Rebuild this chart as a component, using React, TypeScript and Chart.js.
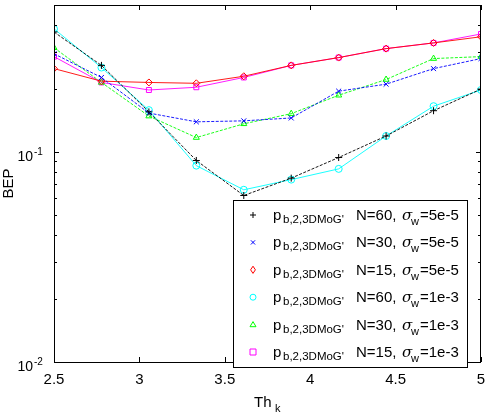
import React, { useEffect, useRef } from "react";
import { Chart, registerables } from "chart.js";

Chart.register(...registerables);

const thK = [2.5, 2.7778, 3.0556, 3.3333, 3.6111, 3.8889, 4.1667, 4.4444, 4.7222, 5];
const bepN60s5e5 = [0.372, 0.258, 0.155, 0.091, 0.062, 0.075, 0.094, 0.119, 0.157, 0.199];
const bepN30s5e5 = [0.293, 0.226, 0.153, 0.139, 0.1405, 0.145, 0.1945, 0.21, 0.249, 0.278];
const bepN15s5e5 = [0.249, 0.217, 0.214, 0.212, 0.229, 0.258, 0.281, 0.31, 0.33, 0.353];
const bepN60s1e3 = [0.385, 0.252, 0.158, 0.086, 0.066, 0.0738, 0.083, 0.119, 0.165, 0.197];
const bepN30s1e3 = [0.313, 0.214, 0.148, 0.117, 0.136, 0.152, 0.186, 0.221, 0.278, 0.284];
const bepN15s1e3 = [0.284, 0.214, 0.197, 0.203, 0.226, 0.258, 0.281, 0.31, 0.33, 0.364];

const xTicks = [2.5, 3, 3.5, 4, 4.5, 5];
const xTickLabels = ["2.5", "3", "3.5", "4", "4.5", "5"];
const yMajor = [0.01, 0.1];
const yMajorExp = ["-2", "-1"];
const yMinor = [0.02, 0.03, 0.04, 0.05, 0.06, 0.07, 0.08, 0.09, 0.2, 0.3, 0.4, 0.5];

const legendN = ["60", "30", "15", "60", "30", "15"];
const legendSigma = ["5e-5", "5e-5", "5e-5", "1e-3", "1e-3", "1e-3"];

const FONT = "'Liberation Sans', Arial, Helvetica, sans-serif";

type Spec = { data: number[]; color: string; style: string; dash: number[] };
const specs: Spec[] = [
  { data: bepN60s5e5, color: "#000000", style: "cross", dash: [3, 1.5] },
  { data: bepN30s5e5, color: "#0000ff", style: "crossRot", dash: [3, 1.5] },
  { data: bepN15s5e5, color: "#ff0000", style: "rectRot", dash: [] },
  { data: bepN60s1e3, color: "#00ffff", style: "circle", dash: [] },
  { data: bepN30s1e3, color: "#00ff00", style: "triangle", dash: [3, 1.5] },
  { data: bepN15s1e3, color: "#ff00ff", style: "rect", dash: [] },
];

function drawMarker(ctx: CanvasRenderingContext2D, style: string, x: number, y: number, r: number, color: string) {
  ctx.save();
  ctx.strokeStyle = color;
  ctx.lineWidth = 1;
  ctx.setLineDash([]);
  ctx.beginPath();
  if (style === "cross") {
    ctx.moveTo(x - r, y); ctx.lineTo(x + r, y);
    ctx.moveTo(x, y - r); ctx.lineTo(x, y + r);
  } else if (style === "crossRot") {
    const d = r * 0.7;
    ctx.moveTo(x - d, y - d); ctx.lineTo(x + d, y + d);
    ctx.moveTo(x - d, y + d); ctx.lineTo(x + d, y - d);
  } else if (style === "rectRot") {
    ctx.moveTo(x, y - r * 1.2); ctx.lineTo(x + r * 0.8, y); ctx.lineTo(x, y + r * 1.2); ctx.lineTo(x - r * 0.8, y); ctx.closePath();
  } else if (style === "circle") {
    ctx.arc(x, y, r, 0, Math.PI * 2);
  } else if (style === "triangle") {
    ctx.moveTo(x, y - r); ctx.lineTo(x + r, y + r * 0.7); ctx.lineTo(x - r, y + r * 0.7); ctx.closePath();
  } else if (style === "rect") {
    ctx.rect(x - r, y - r, 2 * r, 2 * r);
  }
  ctx.stroke();
  ctx.restore();
}

const decorPlugin = {
  id: "decor",
  afterDraw(chart: any) {
    const ctx: CanvasRenderingContext2D = chart.ctx;
    const { left, right, top, bottom } = chart.chartArea;
    const xs = chart.scales.x;
    const ys = chart.scales.y;
    ctx.save();
    ctx.strokeStyle = "#000";
    ctx.lineWidth = 1;
    ctx.setLineDash([]);
    ctx.strokeRect(Math.round(left) + 0.5, Math.round(top) + 0.5, Math.round(right - left) - 1, Math.round(bottom - top));
    ctx.beginPath();
    xTicks.forEach((v) => {
      const px = Math.round(xs.getPixelForValue(v)) + 0.5;
      ctx.moveTo(px, bottom); ctx.lineTo(px, bottom - 5);
      ctx.moveTo(px, top); ctx.lineTo(px, top + 5);
    });
    yMajor.forEach((v) => {
      const py = Math.round(ys.getPixelForValue(v)) + 0.5;
      ctx.moveTo(left, py); ctx.lineTo(left + 5, py);
      ctx.moveTo(right, py); ctx.lineTo(right - 5, py);
    });
    yMinor.forEach((v) => {
      const py = Math.round(ys.getPixelForValue(v)) + 0.5;
      ctx.moveTo(left, py); ctx.lineTo(left + 3, py);
      ctx.moveTo(right, py); ctx.lineTo(right - 3, py);
    });
    ctx.stroke();

    ctx.fillStyle = "#000";
    ctx.font = `15px ${FONT}`;
    ctx.textAlign = "center";
    ctx.textBaseline = "alphabetic";
    xTicks.forEach((v, i) => {
      const px = xs.getPixelForValue(v);
      ctx.fillText(xTickLabels[i], px, bottom + 22);
    });
    yMajor.forEach((v, i) => {
      const py = ys.getPixelForValue(v);
      ctx.font = `14px ${FONT}`;
      ctx.textAlign = "right";
      ctx.fillText("10", 33, py + 9);
      ctx.font = `10px ${FONT}`;
      ctx.textAlign = "left";
      ctx.fillText(yMajorExp[i], 34, py + 3);
    });

    ctx.save();
    ctx.translate(13, (top + bottom) / 2);
    ctx.rotate(-Math.PI / 2);
    ctx.font = `15px ${FONT}`;
    ctx.textAlign = "center";
    ctx.fillText("BEP", 0, 0);
    ctx.restore();
    ctx.font = `15px ${FONT}`;
    ctx.textAlign = "left";
    ctx.fillText("Th", 254, 407);
    ctx.font = `11px ${FONT}`;
    ctx.fillText("k", 275, 412);

    const lx = 233, ly = 200, lw = 234, lh = 167;
    ctx.fillStyle = "#fff";
    ctx.fillRect(lx, ly, lw, lh);
    ctx.strokeStyle = "#000";
    ctx.strokeRect(lx + 0.5, ly + 0.5, lw, lh);
    specs.forEach((s, i) => {
      const cy = 215 + i * 27.4;
      drawMarker(ctx, s.style, 253, cy, 3, s.color);
      const base = cy + 5;
      ctx.fillStyle = "#000";
      ctx.textAlign = "left";
      ctx.font = `15px ${FONT}`;
      ctx.fillText("p", 273, base);
      ctx.font = `11.5px ${FONT}`;
      ctx.fillText("b,2,3DMoG'", 283, base + 3);
      ctx.font = `15px ${FONT}`;
      ctx.fillText(`N=${legendN[i]},`, 356, base);
      ctx.font = `italic 15px 'DejaVu Serif', serif`;
      ctx.fillText("\u03c3", 402, base);
      ctx.font = `11px ${FONT}`;
      ctx.fillText("w", 411, base + 5);
      ctx.font = `15px ${FONT}`;
      ctx.fillText(`=${legendSigma[i]}`, 420, base);
    });
    ctx.restore();
  },
};

export default function App() {
  const ref = useRef<HTMLCanvasElement | null>(null);
  useEffect(() => {
    if (!ref.current) return;
    const chart = new Chart(ref.current, {
      type: "line",
      data: {
        datasets: specs.map((s) => ({
          data: thK.map((x, i) => ({ x, y: s.data[i] })),
          borderColor: s.color,
          backgroundColor: "transparent",
          borderWidth: 0.9,
          borderDash: s.dash,
          pointStyle: s.style as any,
          pointRadius: 3.5,
          pointBorderWidth: 1,
          pointBorderColor: s.color,
          pointBackgroundColor: "transparent",
          tension: 0,
          fill: false,
        })),
      },
      options: {
        animation: false,
        responsive: true,
        maintainAspectRatio: false,
        layout: { padding: { top: 1, right: 1, left: 0, bottom: 0 } },
        plugins: { legend: { display: false }, tooltip: { enabled: false } },
        scales: {
          x: {
            type: "linear",
            min: 2.5,
            max: 5,
            ticks: { display: false },
            grid: { display: false },
            border: { display: false },
            afterFit: (s: any) => { s.height = 54; },
          },
          y: {
            type: "logarithmic",
            min: 0.01,
            max: 0.5,
            ticks: { display: false },
            grid: { display: false },
            border: { display: false },
            afterFit: (s: any) => { s.width = 54; },
          },
        },
      } as any,
      plugins: [decorPlugin],
    });
    return () => chart.destroy();
  }, []);
  return (
    <div style={{ position: "fixed", left: 0, top: 0, width: 486, height: 416, background: "#fff" }}>
      <canvas ref={ref} />
    </div>
  );
}
